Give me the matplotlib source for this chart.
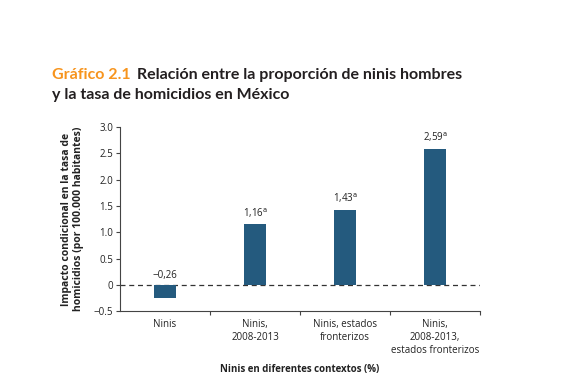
import matplotlib.pyplot as plt

# datos
categorias = ['Ninis', 'Ninis,\n2008-2013', 'Ninis, estados\nfronterizos',
              'Ninis,\n2008-2013,\nestados fronterizos']
valores = [-0.26, 1.16, 1.43, 2.59]
etiquetas = ['\u22120,26', '1,16', '1,43', '2,59']
significativo = [False, True, True, True]
yticks = [-0.5, 0, 0.5, 1.0, 1.5, 2.0, 2.5, 3.0]
ytick_labels = ['\u22120.5', '0', '0.5', '1.0', '1.5', '2.0', '2.5', '3.0']

plt.rcParams['font.family'] = ['Open Sans', 'DejaVu Sans']

fig = plt.figure(figsize=(5.69, 3.86), dpi=100)
ax = fig.add_axes([0.211, 0.194, 0.633, 0.477])

x = range(len(valores))
ax.bar(x, valores, width=0.24, color='#245a7e', zorder=3)
ax.axhline(0, color='#333333', ls=(0, (4, 3)), lw=0.9, zorder=2)

# etiquetas de valores
for i, (v, t, s) in enumerate(zip(valores, etiquetas, significativo)):
    y = max(v, 0) + 0.08
    if s:
        t = t + r'$^{\mathrm{a}}$'
    ax.text(i, y, t, ha='center', va='bottom', fontsize=7, color='#222222')

ax.set_xlim(-0.5, 3.5)
ax.set_ylim(-0.5, 3.0)
ax.set_yticks(yticks)
ax.set_yticklabels(ytick_labels, fontsize=7, color='#222222')
ax.set_xticks([0.5, 1.5, 2.5, 3.5])
ax.set_xticklabels([])
ax.set_xticks(list(x), minor=True)
ax.set_xticklabels(categorias, minor=True, fontsize=7, color='#222222')
ax.tick_params(axis='x', which='minor', length=0, pad=6)
ax.tick_params(axis='x', which='major', length=3, width=0.8, color='#444444')
ax.tick_params(axis='y', length=3, width=0.8, color='#444444', pad=2)

for s in ['top', 'right']:
    ax.spines[s].set_visible(False)
for s in ['left', 'bottom']:
    ax.spines[s].set_color('#444444')
    ax.spines[s].set_linewidth(0.8)

ax.set_ylabel('Impacto condicional en la tasa de\nhomicidios (por 100.000 habitantes)',
              fontsize=7.5, fontweight='bold', color='#222222', labelpad=7, linespacing=1.05)
fig.text(0.527, 0.037, 'Ninis en diferentes contextos (%)', ha='center',
         fontsize=7, fontweight='bold', color='#222222')

# título
fig.text(0.091, 0.795, 'Gráfico 2.1', fontsize=11.5, fontweight='bold', color='#f7941d',
         family=['Lato', 'DejaVu Sans'])
fig.text(0.241, 0.795, 'Relación entre la proporción de ninis hombres', fontsize=11.5,
         fontweight='bold', color='#231f20', family=['Lato', 'DejaVu Sans'])
fig.text(0.091, 0.743, 'y la tasa de homicidios en México', fontsize=11.5,
         fontweight='bold', color='#231f20', family=['Lato', 'DejaVu Sans'])

plt.savefig('out.png', dpi=100)
